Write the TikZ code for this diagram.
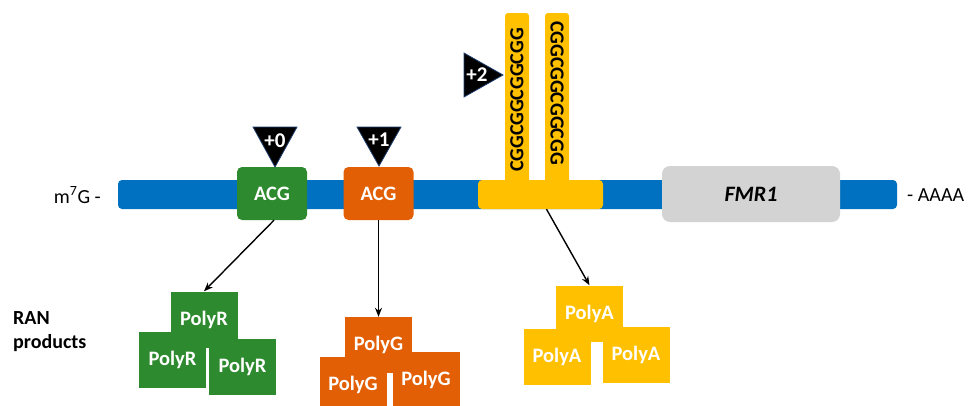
\documentclass[tikz,border=0pt]{standalone}
\usepackage{fontspec}
\setmainfont{Carlito}
\usetikzlibrary{arrows.meta,positioning}
\definecolor{strand blue}{HTML}{0070C0}
\definecolor{frame green}{HTML}{2E8A2E}
\definecolor{frame orange}{HTML}{E25F05}
\definecolor{repeat yellow}{HTML}{FFC000}
\definecolor{gene grey}{HTML}{D3D3D3}
\definecolor{mark blue}{HTML}{1F3F6F}
\tikzset{strand node/.style={rectangle, fill=strand blue, rounded corners=4pt,
    inner sep=0pt, minimum width=779pt, minimum height=29pt}}
\tikzset{plain text/.style={inner sep=0pt, font=\fontsize{20}{24}\selectfont}}
\tikzset{codon node/.style={rectangle, fill=#1, rounded corners=5pt, inner sep=0pt,
    minimum width=70pt, minimum height=53pt, text=white, font=\bfseries\fontsize{20.5}{24}\selectfont}}
\tikzset{repeat node/.style={rectangle, fill=repeat yellow, rounded corners=4pt, inner sep=0pt,
    minimum width=125pt, minimum height=29pt}}
\tikzset{repeat stem/.style={repeat node, rounded corners=3pt, minimum width=24pt, minimum height=182pt}}
\tikzset{repeat text/.style={inner sep=0pt, font=\bfseries\fontsize{20}{24}\selectfont}}
\tikzset{gene node/.style={rectangle, fill=gene grey, rounded corners=8pt, inner sep=0pt,
    minimum width=178pt, minimum height=56pt, font=\bfseries\fontsize{22}{26}\selectfont}}
\tikzset{frame mark/.style={fill=black, draw=mark blue, line width=0.8pt, line join=miter}}
\tikzset{frame text/.style={inner sep=0pt, text=white, font=\bfseries\fontsize{21}{24}\selectfont}}
\tikzset{product node/.style={rectangle, fill=#1, inner sep=0pt, minimum width=67pt,
    minimum height=56pt, text=white, font=\bfseries\fontsize{20.5}{24}\selectfont}}
\tikzset{regular edge/.style={draw=black, line width=1.4pt, -{Stealth[length=9pt,width=7pt]}}}

\begin{document}
\begin{tikzpicture}
  [x=1pt, y=-1pt]
  \useasboundingbox (0,0) rectangle (969,405);
  \clip (0,0) rectangle (969,405);

  % mRNA
  \node [strand node]             (strand) at (507.5, 194.5) {};
  \node [plain text, anchor=east] (cap)    at (101, 195)     {m\textsuperscript{7}G -};
  \node [plain text, anchor=west] (tail)   at (907, 195)     {- AAAA};

  % CGG repeat hairpin
  \node [repeat stem]             (stem1)  at (517, 104)     {};
  \node [repeat stem]             (stem2)  at (557, 104)     {};
  \node [repeat node]             (repeat) at (540.5, 194.5) {};
  \node [repeat text, rotate=90]  (cgg1)   at (517, 100)     {CGGCGGCGGCGG};
  \node [repeat text, rotate=-90] (cgg2)   at (557, 93)      {CGGCGGCGGCGG};

  \node [gene node]               (fmr1)   at (751, 194)     {\textit{FMR1}};

  % start codons
  \node [codon node=frame green]  (acg0)   at (272, 193.5)   {ACG};
  \node [codon node=frame orange] (acg1)   at (378.5, 193.5) {ACG};

  % reading frames
  \filldraw [frame mark] (253,127) -- (297,127) -- (275,167) -- cycle;
  \filldraw [frame mark] (357,127) -- (401,127) -- (379,166) -- cycle;
  \filldraw [frame mark] (464,53)  -- (464,97)  -- (503,75)  -- cycle;
  \node [frame text]              (plus0)  at (275, 141)     {+0};
  \node [frame text]              (plus1)  at (379, 140)     {+1};
  \node [frame text]              (plus2)  at (477, 75)      {+2};

  % RAN products
  \node [plain text, font=\bfseries\fontsize{20}{24}\selectfont, align=left, anchor=west]
                                  (ran)    at (13, 332)      {RAN\\products};

  \begin{scope}[every node/.append style={minimum width=64pt, minimum height=55pt}]
    \node [product node=frame green]   (polyr1) at (204, 319.5)   {PolyR};
    \node [product node=frame green]   (polyr2) at (172.5, 359.5) {PolyR};
    \node [product node=frame green]   (polyr3) at (242.5, 367)   {PolyR};
  \end{scope}

  \begin{scope}
    \node [product node=frame orange]  (polyg1) at (378.5, 345)   {PolyG};
    \node [product node=frame orange]  (polyg2) at (353, 385)     {PolyG};
    \node [product node=frame orange]  (polyg3) at (426, 380)     {PolyG};
  \end{scope}

  \begin{scope}
    \node [product node=repeat yellow] (polya1) at (589.5, 313.5) {PolyA};
    \node [product node=repeat yellow] (polya2) at (557, 356.5)   {PolyA};
    \node [product node=repeat yellow] (polya3) at (636, 355)     {PolyA};
  \end{scope}

  \draw [regular edge] ([xshift=2pt]acg0.south)  -- (polyr1.north);
  \draw [regular edge] (acg1.south)              -- (polyg1.north);
  \draw [regular edge] ([xshift=6pt]repeat.south) -- (polya1.north);
\end{tikzpicture}
\end{document}
